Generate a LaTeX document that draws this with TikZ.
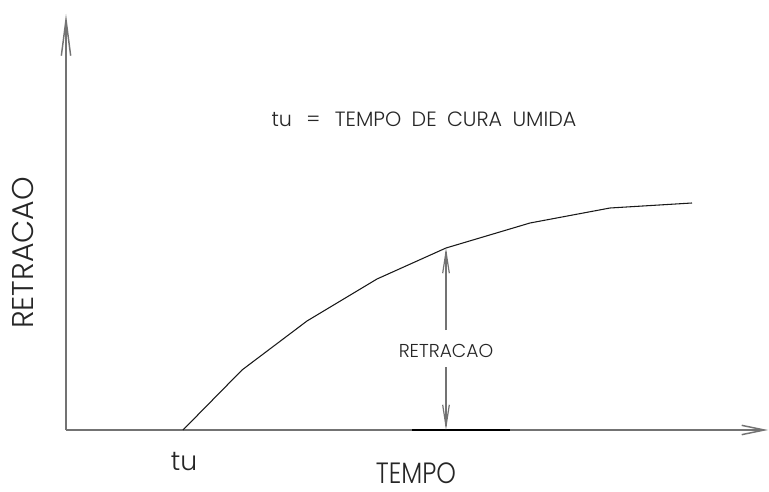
\documentclass[tikz,border=0pt]{standalone}
\usepackage{fontspec}
\setmainfont{Poppins}[UprightFont=* Light]
\usetikzlibrary{arrows.meta}
\begin{document}
\begin{tikzpicture}[x=0.75pt,y=-0.75pt,
  axis/.style={draw=black!55, line width=1.1pt},
  curve/.style={draw=black!90, line width=0.8pt, line join=round},
  dim/.style={draw=black!55, line width=0.9pt},
  lbl/.style={inner sep=0pt, text=black!85},
  bigtip/.style={-{Straight Barb[length=27pt,width=7pt]}},
  midtip/.style={-{Straight Barb[length=17pt,width=7pt]}},
  smalltip/.style={-{Straight Barb[length=16pt,width=5pt]}}
]
\useasboundingbox (0,0) rectangle (769,492);
% axes
\coordinate (O) at (66,430);
\coordinate (ytop) at (66,14);
\coordinate (xend) at (768,430);
\draw[axis,bigtip] (O) -- (ytop);
\draw[axis,midtip] (O) -- (xend);
% curve
\coordinate (c0) at (183,430);
\coordinate (c1) at (242,370);
\coordinate (c2) at (307,321);
\coordinate (c3) at (377,279);
\coordinate (c4) at (446,248);
\coordinate (c5) at (530,223);
\coordinate (c6) at (610,208);
\coordinate (c7) at (692,203);
\draw[curve] (c0) -- (c1) -- (c2) -- (c3) -- (c4) -- (c5) -- (c6) -- (c7);
% dark segment on axis
\coordinate (s1) at (412,430);
\coordinate (s2) at (510,430);
\draw[black, line width=1.3pt] (s1) -- (s2);
% dimension
\coordinate (da) at (446,330);
\coordinate (db) at (446,367);
\coordinate (dbot) at (446,430);
\draw[dim,smalltip] (da) -- (c4);
\draw[dim,smalltip] (db) -- (dbot);
\node[lbl, font=\fontsize{14}{16}\selectfont, anchor=base] (dlabel) at (446,358) {RETRACAO};
% texts
\node[lbl, font=\fontsize{15.5}{18}\selectfont, anchor=base] (def) at (424,127)
  {tu\hspace{0.7em}=\hspace{0.7em}TEMPO\hspace{0.5em}DE\hspace{0.5em}CURA\hspace{0.5em}UMIDA};
\node[lbl, font=\fontsize{22.5}{24}\selectfont, rotate=90, anchor=base] (ylabel) at (33,253) {RETRACAO};
\node[lbl, font=\fontsize{22}{24}\selectfont, anchor=base] (xlabel) at (416,483) {\scalebox{0.85}[1]{TEMPO}};
\node[lbl, font=\fontsize{20}{24}\selectfont, anchor=base] (tu) at (184,470) {tu};
\end{tikzpicture}
\end{document}
